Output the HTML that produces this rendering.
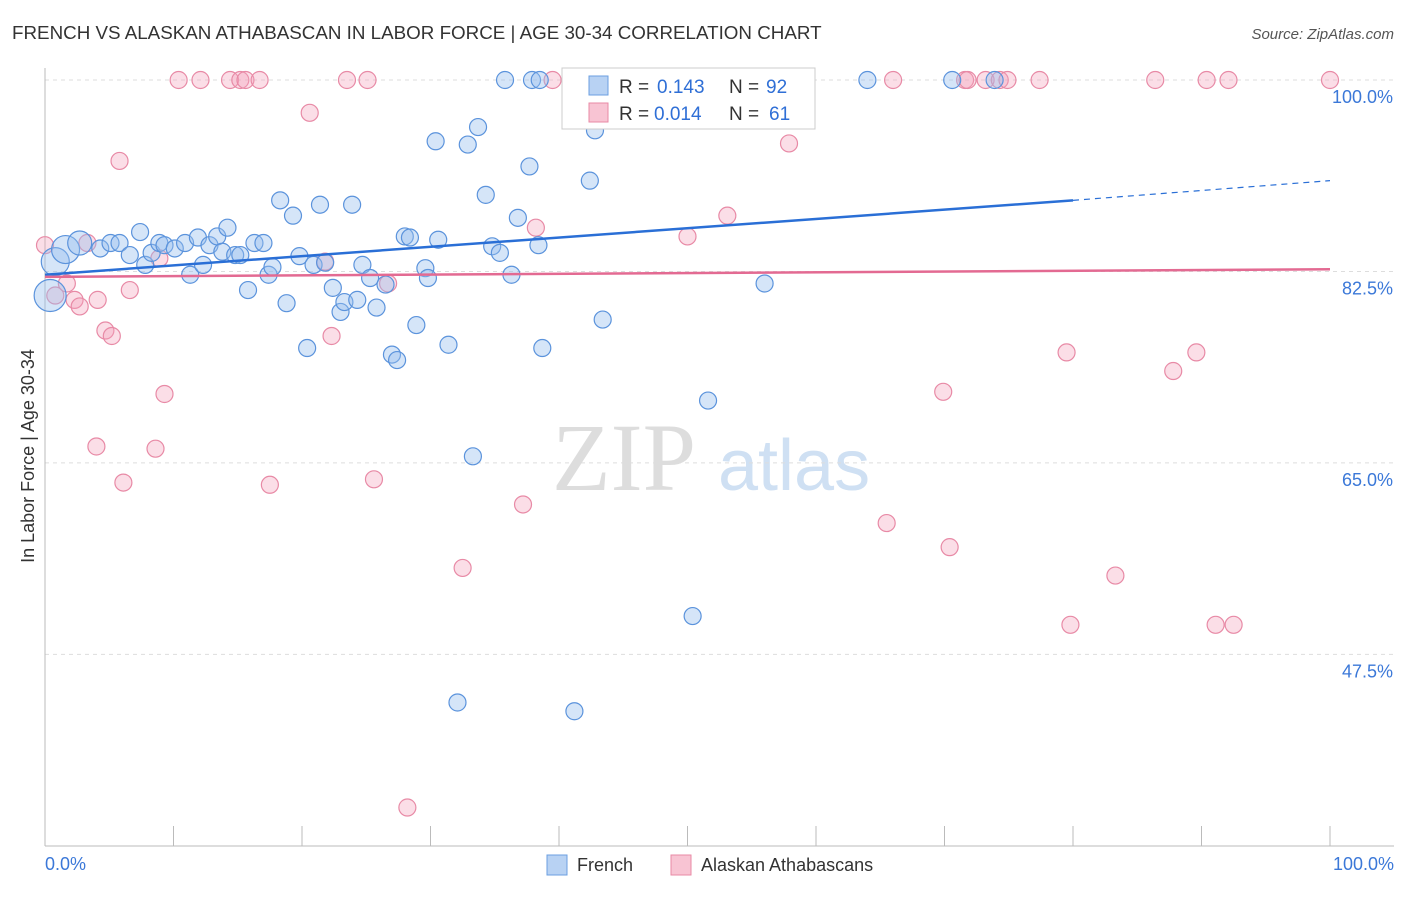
<!DOCTYPE html>
<html><head><meta charset="utf-8"><style>
body{margin:0;background:#fff;font-family:"Liberation Sans",sans-serif}
</style></head><body>
<svg id="c" width="1406" height="892" xmlns="http://www.w3.org/2000/svg">
<text x="12" y="39" font-size="18.8" fill="#333">FRENCH VS ALASKAN ATHABASCAN IN LABOR FORCE | AGE 30-34 CORRELATION CHART</text>
<text x="1394" y="39" font-size="15" fill="#555" text-anchor="end" font-style="italic">Source: ZipAtlas.com</text>
<text x="552" y="490" font-size="96" fill="#ddd" font-family="Liberation Serif,serif">ZIP</text>
<text x="718" y="490" font-size="72" fill="#cfe0f3">atlas</text>
<text x="34" y="456" font-size="18" fill="#333" text-anchor="middle" transform="rotate(-90 34 456)">In Labor Force | Age 30-34</text>
<g id="grid"></g><g id="pts"></g><g id="lines"></g>
<g>
<rect x="562" y="68" width="253" height="61" fill="#fff" stroke="#ccc"/>
<rect x="589" y="76" width="19" height="19" fill="#b8d2f3" stroke="#6b9fe0"/>
<text y="93" font-size="19" fill="#333"><tspan x="619">R =</tspan><tspan x="657" fill="#2f6fd6">0.143</tspan><tspan x="729">N =</tspan><tspan x="766" fill="#2f6fd6">92</tspan></text>
<rect x="589" y="103" width="19" height="19" fill="#f8c4d3" stroke="#e88aa6"/>
<text y="120" font-size="19" fill="#333"><tspan x="619">R =</tspan><tspan x="654" fill="#2f6fd6">0.014</tspan><tspan x="729">N =</tspan><tspan x="769" fill="#2f6fd6">61</tspan></text>
</g>
<g>
<rect x="547" y="855" width="20" height="20" fill="#b8d2f3" stroke="#6b9fe0"/>
<text x="577" y="871" font-size="18" fill="#333">French</text>
<rect x="671" y="855" width="20" height="20" fill="#f8c4d3" stroke="#e88aa6"/>
<text x="701" y="871" font-size="18" fill="#333">Alaskan Athabascans</text>
</g>
</svg>
<script>
const yTicks=[100,82.5,65,47.5];
const yTickLabels=["100.0%","82.5%","65.0%","47.5%"];
const blueX=[0.4,0.8,1.6,2.7,4.3,5.1,5.8,7.4,6.6,7.8,8.3,8.9,9.3,10.1,10.9,11.3,11.9,12.3,12.8,13.4,13.8,14.2,14.8,15.2,15.8,16.3,17.0,17.4,17.7,18.3,18.8,19.3,19.8,20.4,20.9,21.4,21.8,22.4,23.0,23.3,23.9,24.3,24.7,25.3,25.8,26.5,27.0,27.4,28.0,28.4,28.9,29.6,29.8,30.4,30.6,31.4,32.9,33.3,33.7,32.1,34.3,34.8,35.4,35.8,36.3,36.8,37.7,37.9,38.4,38.7,41.2,41.2,42.4,42.8,43.4,45.5,50.4,51.6,56.0,64.0,70.6,73.9,38.5];
const blueY=[80.3,83.4,84.5,85.1,84.6,85.1,85.1,86.1,84.0,83.1,84.2,85.1,84.9,84.6,85.1,82.2,85.6,83.1,84.9,85.7,84.3,86.5,84.0,84.0,80.8,85.1,85.1,82.2,82.9,89.0,79.6,87.6,83.9,75.5,83.1,88.6,83.3,81.0,78.8,79.7,88.6,79.9,83.1,81.9,79.2,81.3,74.9,74.4,85.7,85.6,77.6,82.8,81.9,94.4,85.4,75.8,94.1,65.6,95.7,43.1,89.5,84.8,84.2,100,82.2,87.4,92.1,100,84.9,75.5,42.3,100,90.8,95.4,78.1,100,51.0,70.7,81.4,100,100,100,100];
const blueR=[16,14,14,12];
const pinkX=[0,0.8,1.7,2.3,2.7,3.3,4.1,4.7,5.2,5.8,6.1,6.6,4.0,8.6,8.9,9.3,10.4,12.1,14.4,15.2,15.6,16.7,17.5,20.6,21.8,22.3,23.5,25.1,25.6,26.7,28.2,32.5,37.2,38.2,39.5,50.0,53.1,57.9,65.5,66.0,69.9,70.4,71.6,71.8,73.2,74.3,74.9,77.4,79.5,79.8,83.3,86.4,87.8,89.6,90.4,91.1,92.1,92.5,100];
const pinkY=[84.9,80.3,81.4,79.9,79.3,85.1,79.9,77.1,76.6,92.6,63.2,80.8,66.5,66.3,83.7,71.3,100,100,100,100,100,100,63.0,97.0,83.4,76.6,100,100,63.5,81.4,33.5,55.4,61.2,86.5,100,85.7,87.6,94.2,59.5,100,71.5,57.3,100,100,100,100,100,100,75.1,50.2,54.7,100,73.4,75.1,100,50.2,100,50.2,100];
const blueTrend=[82.2,89.0,90.8]; const blueTrendX=[0,80,100];
const pinkTrend=[82.0,82.7]; const pinkTrendX=[0,100];
const NS="http://www.w3.org/2000/svg";
const X=v=>45+v*12.85, Y=v=>80+(100-v)*10.94;
function mk(t,a,p){const e=document.createElementNS(NS,t);for(const k in a)e.setAttribute(k,a[k]);p.appendChild(e);return e;}
const g=document.getElementById('grid');
yTicks.forEach((t,i)=>{const l=mk('line',{x1:45,x2:1394,y1:Y(t),y2:Y(t),stroke:'#ddd','stroke-dasharray':'4,4'},g);


const tx=mk('text',{x:1393,y:Y(t)+23,'font-size':18,fill:'#3b78d8','text-anchor':'end'},g);tx.textContent=yTickLabels[i];

});
const ax=mk('line',{x1:45,x2:45,y1:68,y2:846,stroke:'#bbb'},g);


const bx=mk('line',{x1:45,x2:1394,y1:846,y2:846,stroke:'#bbb'},g);


for(let i=0;i<=10;i++){const tk=mk('line',{x1:X(i*10),x2:X(i*10),y1:826,y2:846,stroke:'#bbb'},g);

}
[[0,'0.0%','start',45],[100,'100.0%','end',1394]].forEach(d=>{const t=mk('text',{x:d[3],y:870,'font-size':18,fill:'#3b78d8','text-anchor':d[2]},g);t.textContent=d[1];

});
const p=document.getElementById('pts');
pinkX.forEach((v,i)=>{const c=mk('circle',{cx:X(v),cy:Y(pinkY[i]),r:8.5,fill:'rgba(244,160,186,0.35)',stroke:'#e88aa6','stroke-width':1.2},p);

});
blueX.forEach((v,i)=>{const c=mk('circle',{cx:X(v),cy:Y(blueY[i]),r:blueR[i]||8.5,fill:'rgba(150,190,238,0.4)',stroke:'#5b93dc','stroke-width':1.2},p);

});
const L=document.getElementById('lines');
const b1=mk('line',{x1:X(blueTrendX[0]),y1:Y(blueTrend[0]),x2:X(blueTrendX[1]),y2:Y(blueTrend[1]),stroke:'#2a6fd6','stroke-width':2.5},L);


const b2=mk('line',{x1:X(blueTrendX[1]),y1:Y(blueTrend[1]),x2:X(blueTrendX[2]),y2:Y(blueTrend[2]),stroke:'#2a6fd6','stroke-width':1.2,'stroke-dasharray':'6,5'},L);


const p1=mk('line',{x1:X(pinkTrendX[0]),y1:Y(pinkTrend[0]),x2:X(pinkTrendX[1]),y2:Y(pinkTrend[1]),stroke:'#e36a92','stroke-width':2.5},L);


</script>
</body></html>
